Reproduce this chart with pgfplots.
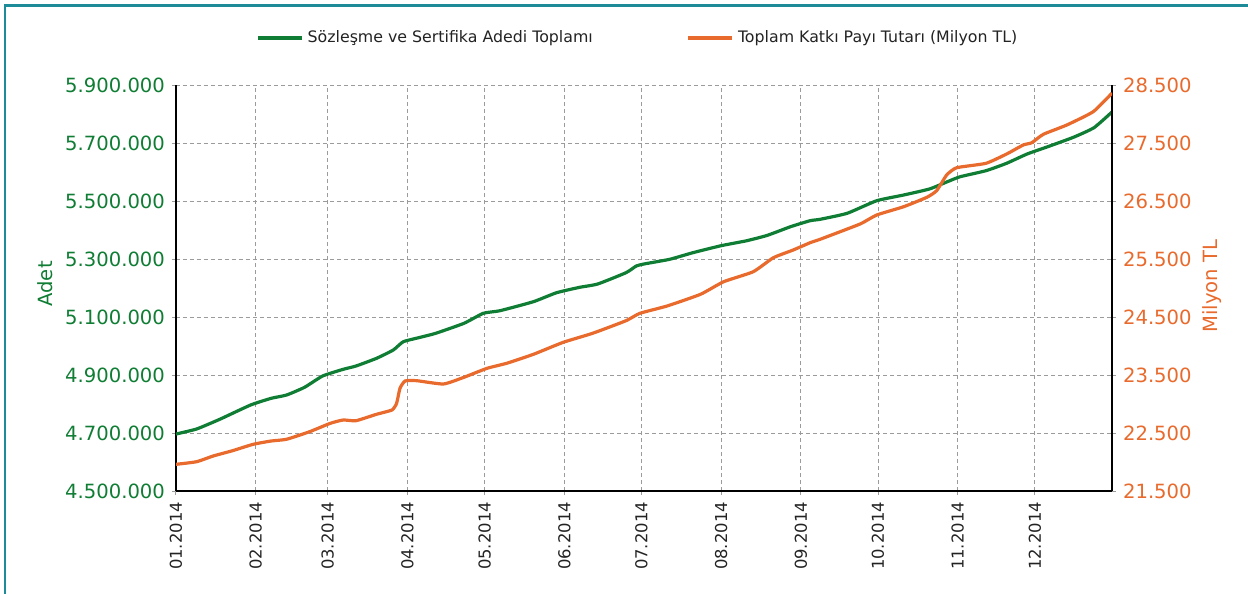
\documentclass[border=0pt]{standalone}
\usepackage{fontspec}
\setmainfont{DejaVu Sans}
\usepackage{pgfplots}
\pgfplotsset{compat=1.18}
\definecolor{cgreen}{RGB}{16,125,52}
\definecolor{corange}{RGB}{232,106,44}
\definecolor{cteal}{RGB}{30,140,152}
\definecolor{cgrid}{RGB}{155,155,155}
\definecolor{ctext}{RGB}{35,35,35}
\pgfplotstableread{
day val
0 4696500
8 4713800
17 4747200
29 4796500
37 4819600
43 4831000
50 4857600
57 4896500
65 4919600
70 4931000
78 4957600
84.5 4986200
88.4 5014800
95 5030000
101 5043800
112 5078300
119.5 5112800
126 5121700
139 5152800
148 5183800
157 5202400
164 5213800
175 5252800
179 5275900
182 5282800
192 5299000
201 5321700
212 5345900
222 5363100
230 5381700
239 5411400
246.6 5432100
250.5 5436900
261 5457600
272.5 5501000
283 5520700
293 5541400
300 5566600
305 5583800
315 5604500
323 5630000
331 5662100
339 5687200
349 5719700
357 5752800
364 5807000
}\adet
\pgfplotstableread{
day val
0 21960
8 22005
14.5 22104
22 22195
30 22305
37 22362
43 22392
52 22523
60 22667
65 22724
70 22712
78 22823
84 22897
85.8 23012
87.1 23271
89.1 23397
93.6 23402
104 23345
112 23461
121 23616
128.6 23702
139 23857
150.6 24064
162 24219
175 24436
180.4 24564
191 24690
204 24892
213 25109
224.5 25281
232.3 25522
240 25655
246.6 25781
250.5 25840
266 26103
272.5 26259
283 26402
292 26564
295.8 26678
299.7 26948
303.6 27074
315 27150
323 27310
329.5 27466
332.8 27505
337.3 27650
346.4 27810
356.7 28040
364 28360
}\katki
\begin{document}
\begin{tikzpicture}[x=1pt,y=1pt]
\path[use as bounding box] (0,0) rectangle (624,-297);
\draw[cteal, line width=1.3pt] (2.4,-297) -- (2.4,-2.6) -- (624,-2.6);
\pgfplotsset{
  common/.style={
    at={(88pt,-245.5pt)}, anchor=south west,
    width=468pt, height=203pt, scale only axis,
    xmin=0, xmax=364,
    axis line style={black, line width=1.1pt},
    tick align=outside, major tick length=2pt,
    tick style={cgrid, line width=0.5pt},
    scaled y ticks=false,
    /pgf/number format/fixed,
    /pgf/number format/1000 sep={.},
    /pgf/number format/assume math mode=true,
    y tick label style={font=\fontsize{9.8}{11}\selectfont},
  }
}
\begin{axis}[common,
  ymin=4500000, ymax=5900000,
  ytick={4500000,4700000,4900000,5100000,5300000,5500000,5700000,5900000},
  axis x line*=bottom, axis y line*=left,
  xtick={0,31,59,90,120,151,181,212,243,273,304,334},
  xticklabels={01.2014,02.2014,03.2014,04.2014,05.2014,06.2014,07.2014,08.2014,09.2014,10.2014,11.2014,12.2014},
  x tick label style={rotate=90, anchor=east, font=\fontsize{8.2}{9}\selectfont, text=ctext},
  y tick label style={text=cgreen},
  grid=major,
  major grid style={cgrid, dash pattern=on 2pt off 1.5pt, line width=0.5pt},
  ylabel={Adet},
  ylabel style={at={(axis description cs:-0.14,0.51)}, anchor=center, font=\fontsize{9.8}{11}\selectfont, text=cgreen},
  legend style={at={(0.4945,1.116)}, anchor=center, draw=none, fill=none,
    font=\fontsize{7.9}{9}\selectfont, text=ctext, legend columns=2,
    /tikz/every even column/.append style={column sep=45pt}},
  legend image code/.code={\draw[#1] (0pt,0pt) -- (22pt,0pt);},
]
\addplot[cgreen, line width=1.6pt, smooth, tension=0.3] table[x=day,y=val]{\adet};
\addlegendentry{Sözleşme ve Sertifika Adedi Toplamı}
\addlegendimage{corange, line width=1.6pt}
\addlegendentry{Toplam Katkı Payı Tutarı (Milyon TL)}
\end{axis}
\begin{axis}[common,
  ymin=21500, ymax=28500,
  ytick={21500,22500,23500,24500,25500,26500,27500,28500},
  axis y line*=right, axis x line=none,
  y tick label style={text=corange},
  ylabel={Milyon TL},
  ylabel style={at={(axis description cs:1.107,0.505)}, anchor=center, font=\fontsize{9.8}{11}\selectfont, text=corange},
]
\addplot[corange, line width=1.6pt, smooth, tension=0.3] table[x=day,y=val]{\katki};
\end{axis}
\end{tikzpicture}
\end{document}
